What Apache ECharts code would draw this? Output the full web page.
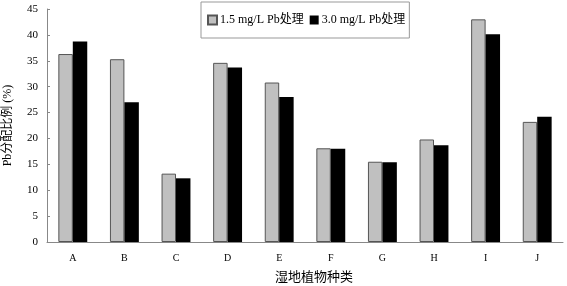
<!DOCTYPE html>
<html>
<head>
<meta charset="utf-8">
<script src="https://cdn.jsdelivr.net/npm/echarts@6/dist/echarts.min.js"></script>
<style>
  html, body { margin: 0; padding: 0; background: #fff; }
  #chart { width: 567px; height: 286px; }
</style>
</head>
<body>
<div id="chart"></div>
<script>
// 湿地植物种类
var species = ['A', 'B', 'C', 'D', 'E', 'F', 'G', 'H', 'I', 'J'];
// 1.5 mg/L Pb处理
var low = [36.3, 35.3, 13.2, 34.6, 30.8, 18.1, 15.5, 19.8, 43.0, 23.2];
// 3.0 mg/L Pb处理
var high = [38.7, 27.0, 12.3, 33.7, 28.0, 18.0, 15.4, 18.7, 40.1, 24.2];
var yTicks = [0, 5, 10, 15, 20, 25, 30, 35, 40, 45];

var font = 'Liberation Serif, Noto Sans CJK SC, serif';
var chart = echarts.init(document.getElementById('chart'));

chart.setOption({
  animation: false,
  textStyle: { fontFamily: font, color: '#000' },
  grid: { left: 47, right: 4, top: 9, bottom: 44, outerBoundsMode: 'none', containLabel: false },
  legend: {
    left: 201, top: 2,
    orient: 'horizontal',
    padding: [12, 4, 12, 6],
    borderColor: '#999', borderWidth: 1,
    itemWidth: 9, itemHeight: 9, itemGap: 6,
    icon: 'rect',
    textStyle: { fontFamily: font, fontSize: 12, color: '#000', padding: [0, 0, 0, -2] },
    data: ['1.5 mg/L Pb处理', '3.0 mg/L Pb处理']
  },
  xAxis: {
    type: 'category',
    data: species,
    name: '湿地植物种类',
    nameLocation: 'middle',
    nameGap: 28,
    nameTextStyle: { fontFamily: 'Noto Sans CJK SC', fontSize: 13, color: '#000', padding: [0, 0, 0, 18] },
    axisLine: { lineStyle: { color: '#888' } },
    axisTick: { inside: true, length: 3, lineStyle: { color: '#888' } },
    axisLabel: { margin: 11, fontSize: 10, color: '#000' }
  },
  yAxis: {
    type: 'value',
    min: yTicks[0], max: yTicks[yTicks.length - 1], interval: 5,
    name: 'Pb分配比例 (%)',
    nameLocation: 'middle',
    nameGap: 33,
    nameTextStyle: { fontFamily: font, fontSize: 12, color: '#000' },
    splitLine: { show: false },
    axisLine: { show: true, lineStyle: { color: '#888' } },
    axisTick: { show: true, inside: true, length: 3, lineStyle: { color: '#888' } },
    axisLabel: { margin: 9, fontSize: 11, color: '#000' }
  },
  series: [
    {
      name: '1.5 mg/L Pb处理',
      type: 'bar',
      data: low,
      barGap: '0%',
      barCategoryGap: '44%',
      itemStyle: { color: '#c0c0c0', borderColor: '#555', borderWidth: 1 }
    },
    {
      name: '3.0 mg/L Pb处理',
      type: 'bar',
      data: high,
      itemStyle: { color: '#000' }
    }
  ]
});
</script>
</body>
</html>
